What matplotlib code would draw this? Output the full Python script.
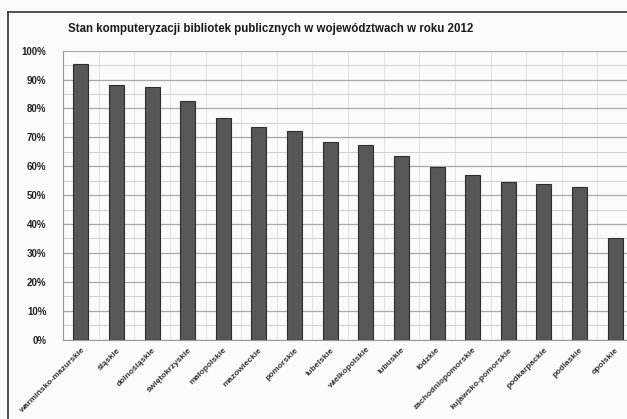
import matplotlib.pyplot as plt
import numpy as np
from matplotlib.ticker import MultipleLocator, FuncFormatter

# dane
wojewodztwa = ['warmińsko-mazurskie', 'śląskie', 'dolnośląskie', 'świętokrzyskie',
               'małopolskie', 'mazowieckie', 'pomorskie', 'lubelskie', 'wielkopolskie',
               'lubuskie', 'łódzkie', 'zachodniopomorskie', 'kujawsko-pomorskie',
               'podkarpackie', 'podlaskie', 'opolskie']
procent = [95.3, 88.1, 87.4, 82.6, 76.7, 73.5, 72.2, 68.4, 67.3, 63.5,
           59.6, 56.9, 54.6, 54.0, 52.9, 35.0]
tytul = 'Stan komputeryzacji bibliotek publicznych w województwach w roku 2012'

plt.rcParams['font.family'] = ['Liberation Sans', 'DejaVu Sans']

fig = plt.figure(figsize=(6.27, 4.19), dpi=100)
fig.patch.set_facecolor('#fbfbfb')

# ramka wykresu (przycieta z prawej i z dolu)
fig.add_artist(plt.Line2D([8/627, 8/627], [0, 1-12/419], color='#333333', lw=1.2))
fig.add_artist(plt.Line2D([8/627, 1], [1-12/419, 1-12/419], color='#333333', lw=1.2))

ax = fig.add_axes([63/627, 79.5/419, 570/627, 288.8/419])
ax.set_facecolor('#fbfbfb')

x = np.arange(len(wojewodztwa))
ax.bar(x, procent, width=0.42, color='#575757', edgecolor='#2e2e2e', linewidth=0.8, zorder=3)

ax.set_xlim(-0.5, len(wojewodztwa) - 0.5)
ax.set_ylim(0, 100)
ax.yaxis.set_major_locator(MultipleLocator(10))
ax.yaxis.set_minor_locator(MultipleLocator(5))
ax.yaxis.set_major_formatter(FuncFormatter(lambda v, p: '%d%%' % v))
ax.grid(axis='y', which='major', color='#aaaaaa', lw=0.9, zorder=0)
ax.grid(axis='y', which='minor', color='#cfcfcf', lw=0.7, zorder=0)
ax.set_xticks(x + 0.5, minor=True)
ax.grid(axis='x', which='minor', color='#dedede', lw=0.6, zorder=0)

ax.set_xticks(x)
ax.set_xticklabels(wojewodztwa, rotation=45, ha='right', rotation_mode='anchor',
                   fontsize=6, fontweight='bold', color='#333333')
ax.tick_params(axis='x', length=0, pad=5)
ax.tick_params(axis='x', which='minor', length=0)
ax.tick_params(axis='y', which='both', length=0, pad=12, labelsize=7, labelcolor='#222222')
for t in ax.get_yticklabels():
    t.set_fontweight('bold')

for s in ['top', 'right']:
    ax.spines[s].set_visible(False)
ax.spines['left'].set_color('#999999')
ax.spines['bottom'].set_color('#999999')

fig.text(271/627, 1 - 29/419, tytul, ha='center', va='center',
         fontsize=8.3, fontweight='bold', color='#1a1a1a')

plt.savefig('out.png', dpi=100, facecolor=fig.get_facecolor())
